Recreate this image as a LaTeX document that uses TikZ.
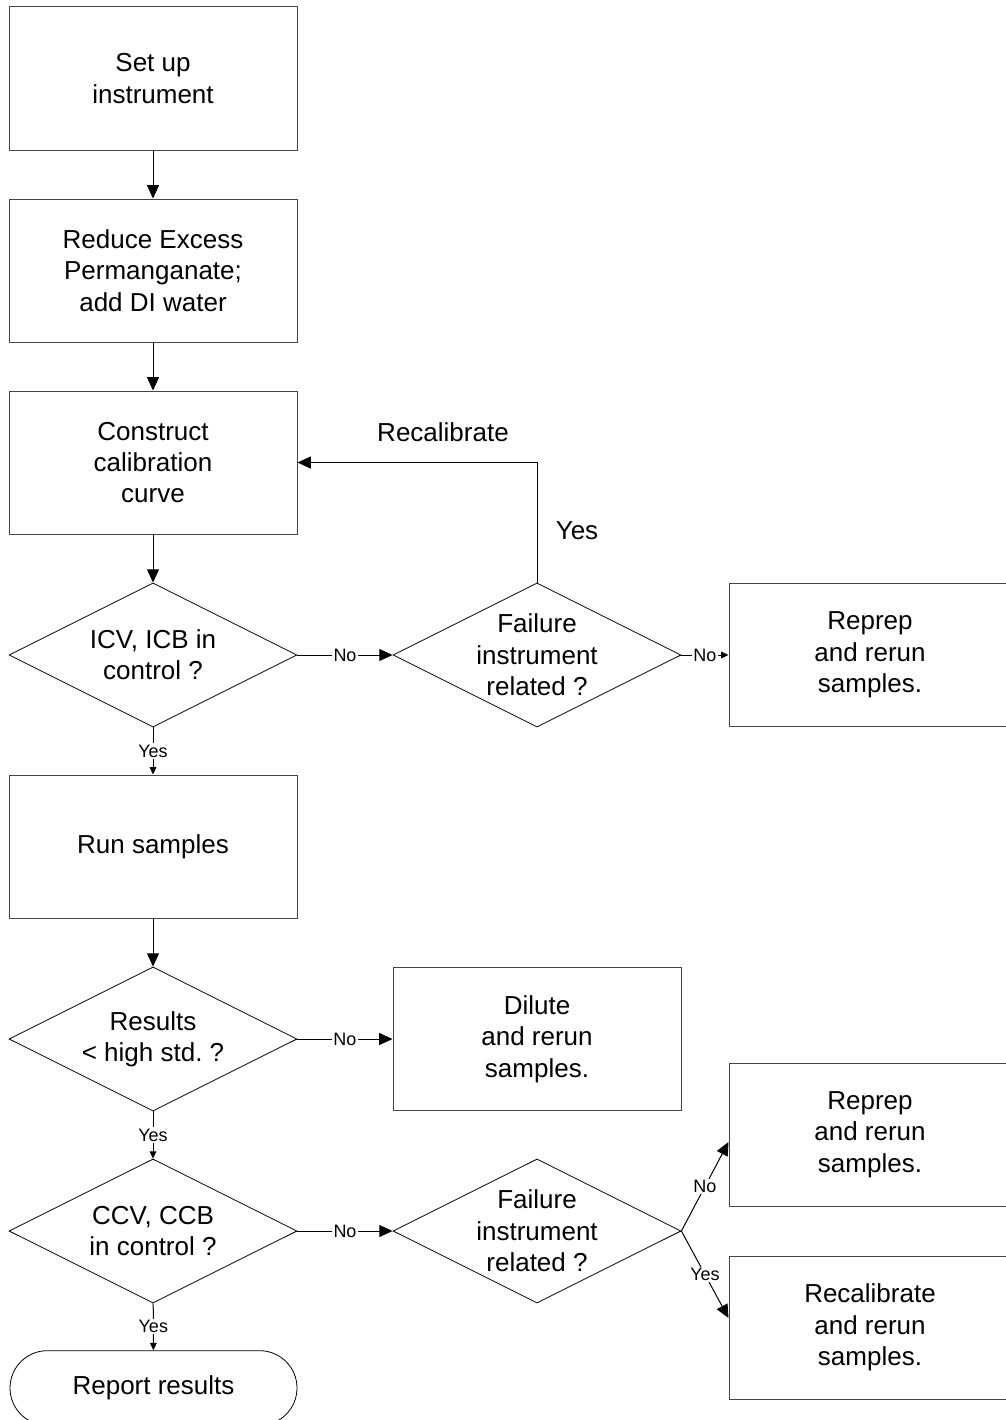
\documentclass[tikz,border=0pt]{standalone}
\usepackage{fontspec}
\setmainfont{Liberation Sans}
\usepackage{tikz}
\usetikzlibrary{shapes.geometric, arrows.meta, positioning, calc}
\definecolor{boxgray}{RGB}{70,70,70}
\newcommand{\flowfont}{\fontsize{19.5pt}{23.5pt}\selectfont}
\newcommand{\tagfont}{\fontsize{13.5pt}{15pt}\selectfont}
\tikzset{
  stepbox/.style={rectangle, draw=boxgray, line width=0.75pt,
    minimum width=216pt, minimum height=107.25pt, inner sep=0pt,
    align=center, font=\flowfont},
  sidebox/.style={stepbox, minimum width=211.5pt},
  decision/.style={diamond, draw=black, line width=0.6pt,
    minimum width=216pt, minimum height=108pt, inner sep=0pt},
  dtext/.style={align=center, font=\flowfont, inner sep=0pt},
  endbox/.style={rectangle, draw=black, line width=0.6pt, rounded corners=28pt,
    minimum width=215.25pt, minimum height=56pt, font=\flowfont},
  flowtext/.style={font=\flowfont, inner sep=0pt},
  tag/.style={font=\tagfont, fill=white, inner sep=1pt},
  arrow/.style={-{Triangle[length=10pt, width=9pt]}, line width=0.75pt, color=black},
  smallarrow/.style={-{Triangle[length=5.5pt, width=5pt]}, line width=0.75pt, color=black}
}
\begin{document}
\begin{tikzpicture}[x=0.75pt, y=-0.75pt]
  \path[use as bounding box, clip] (0,0) rectangle (1006,1420);

  % main column
  \node[stepbox] (setup) at (153,78.5) {Set up\\instrument};
  \node[stepbox] (reduce) at (153,270.5) {Reduce Excess\\Permanganate;\\add DI water};
  \node[stepbox] (calib) at (153,462.5) {Construct\\calibration\\curve};
  \node[decision, label={[dtext]center:{ICV, ICB in\\control ?}}] (icv) at (153,655) {};
  \node[stepbox] (run) at (153,846.5) {Run samples};
  \node[decision, label={[dtext]center:{Results\\< high std.\ ?}}] (highstd) at (153,1039) {};
  \node[decision, label={[dtext]center:{CCV, CCB\\in control ?}}] (ccv) at (153,1231) {};
  \node[endbox] (report) at (153.5,1388) {Report results};

  % right side
  \node[decision, label={[dtext]center:{Failure\\instrument\\related ?}}] (fail1) at (537,655) {};
  \node[sidebox] (reprep1) at (870,655) {Reprep\\and rerun\\samples.};
  \node[stepbox] (dilute) at (537,1039) {Dilute\\and rerun\\samples.};
  \node[decision, label={[dtext]center:{Failure\\instrument\\related ?}}] (fail2) at (537,1231) {};
  \node[sidebox] (reprep2) at (870,1134.5) {Reprep\\and rerun\\samples.};
  \node[sidebox] (recal) at (870,1327.5) {Recalibrate\\and rerun\\samples.};

  % connectors
  \draw[arrow] (setup) -- (reduce);
  \draw[arrow] (reduce) -- (calib);
  \draw[arrow] (calib) -- (icv);
  \draw[arrow] (icv) -- node[tag] {No} (fail1);
  \draw[smallarrow] (fail1) -- node[tag] {No} (reprep1);
  \draw[arrow] (fail1.north) |- (calib.east);
  \node[flowtext] (recallbl) at (443,432) {Recalibrate};
  \node[flowtext] (yeslbl) at (577,531) {Yes};
  \draw[smallarrow] (icv) -- node[tag] {Yes} (run);
  \draw[arrow] (run) -- (highstd);
  \draw[arrow] (highstd) -- node[tag] {No} (dilute);
  \draw[smallarrow] (highstd) -- node[tag] {Yes} (ccv);
  \draw[arrow] (ccv) -- node[tag] {No} (fail2);
  \draw[smallarrow] (ccv) -- node[tag] {Yes} (report);
  \draw[arrow] (fail2.east) -- node[tag] {No} ($(reprep2.west)+(0,7.5)$);
  \draw[arrow] (fail2.east) -- node[tag] {Yes} ($(recal.west)+(0,-9.5)$);
\end{tikzpicture}
\end{document}
